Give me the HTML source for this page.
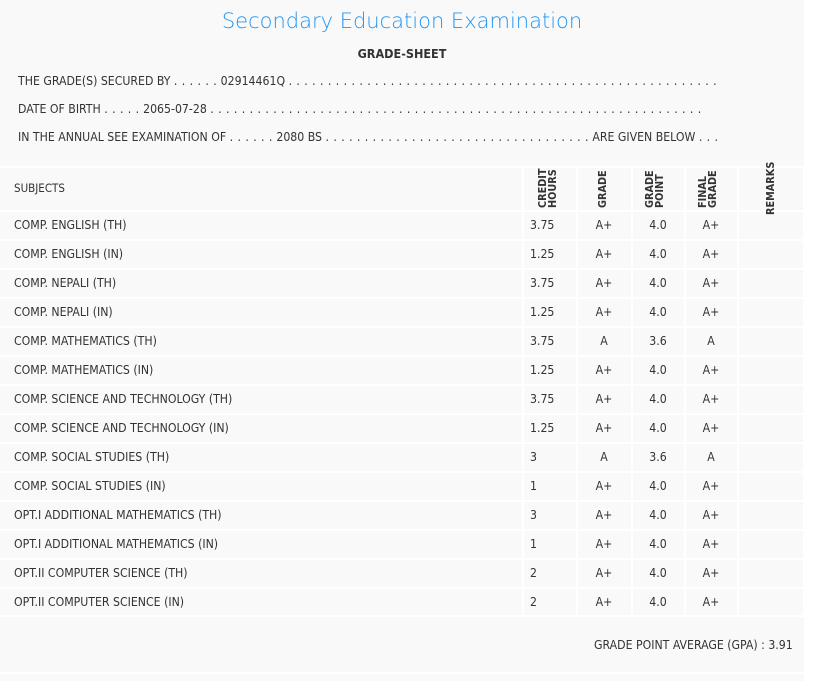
<!DOCTYPE html>
<html><head><style>
body{margin:0;width:832px;height:681px;background:#fff;overflow:hidden;font-family:"DejaVu Sans Condensed","DejaVu Sans",sans-serif;font-stretch:condensed;color:#333;font-size:12.2px}
#pg{position:absolute;left:0;top:0;width:804px;height:681px;background:#f9f9f9}
.a{position:absolute;white-space:nowrap}
.d{letter-spacing:0.45px}
.h{position:absolute;left:0;width:804px;height:2px;background:#fff}
.v{position:absolute;width:2px;background:#fff}
.row{position:absolute;left:0;width:804px;height:29px;line-height:29px}
.row span{position:absolute}
.c{text-align:center;width:54px}
.rot{position:absolute;z-index:5;transform:rotate(-90deg);transform-origin:left top;font-weight:bold;line-height:10px;font-size:10.8px;white-space:nowrap}
</style></head><body><div id="pg">
<div class="a" style="left:0;width:804px;text-align:center;top:9px;font-family:'DejaVu Sans',sans-serif;font-stretch:normal;font-size:21px;color:#2196f3;font-weight:300">Secondary Education Examination</div>
<div class="a" style="left:0;width:804px;text-align:center;top:46px;font-weight:bold;font-size:12.5px">GRADE-SHEET</div>
<div class="a" style="left:18px;top:74px">THE GRADE(S) SECURED BY <span class="d">. . . . . .</span> 02914461Q <span class="d">. . . . . . . . . . . . . . . . . . . . . . . . . . . . . . . . . . . . . . . . . . . . . . . . . . . . . . .</span></div>
<div class="a" style="left:18px;top:102px">DATE OF BIRTH <span class="d">. . . . .</span> 2065-07-28 <span class="d">. . . . . . . . . . . . . . . . . . . . . . . . . . . . . . . . . . . . . . . . . . . . . . . . . . . . . . . . . . . . . . .</span></div>
<div class="a" style="left:18px;top:130px">IN THE ANNUAL SEE EXAMINATION OF <span class="d">. . . . . .</span> 2080 BS <span class="d">. . . . . . . . . . . . . . . . . . . . . . . . . . . . . . . . . .</span> ARE GIVEN BELOW <span class="d">. . .</span></div>
<div class="h" style="top:166px"></div>
<div class="a" style="left:14px;top:181px;font-size:11.5px">SUBJECTS</div>
<div class="rot" style="left:538px;top:208px">CREDIT<br>HOURS</div>
<div class="rot" style="left:598px;top:208px">GRADE</div>
<div class="rot" style="left:645px;top:208px">GRADE<br>POINT</div>
<div class="rot" style="left:698px;top:208px">FINAL<br>GRADE</div>
<div class="rot" style="left:766px;top:215px">REMARKS</div>
<div id="rows"></div>
<div class="a" style="left:594px;top:638px">GRADE POINT AVERAGE (GPA) : 3.91</div>
<div class="h" style="top:672px"></div>
</div>
<script>
var d=[["COMP. ENGLISH (TH)","3.75","A+","4.0","A+"],["COMP. ENGLISH (IN)","1.25","A+","4.0","A+"],["COMP. NEPALI (TH)","3.75","A+","4.0","A+"],["COMP. NEPALI (IN)","1.25","A+","4.0","A+"],["COMP. MATHEMATICS (TH)","3.75","A","3.6","A"],["COMP. MATHEMATICS (IN)","1.25","A+","4.0","A+"],["COMP. SCIENCE AND TECHNOLOGY (TH)","3.75","A+","4.0","A+"],["COMP. SCIENCE AND TECHNOLOGY (IN)","1.25","A+","4.0","A+"],["COMP. SOCIAL STUDIES (TH)","3","A","3.6","A"],["COMP. SOCIAL STUDIES (IN)","1","A+","4.0","A+"],["OPT.I ADDITIONAL MATHEMATICS (TH)","3","A+","4.0","A+"],["OPT.I ADDITIONAL MATHEMATICS (IN)","1","A+","4.0","A+"],["OPT.II COMPUTER SCIENCE (TH)","2","A+","4.0","A+"],["OPT.II COMPUTER SCIENCE (IN)","2","A+","4.0","A+"]];
var h='';
for(var i=0;i<d.length;i++){var y=211+i*29;var r=d[i];
h+='<div class="h" style="top:'+(y-1)+'px"></div><div class="row" style="top:'+y+'px"><span style="left:14px">'+r[0]+'</span><span style="left:530px">'+r[1]+'</span><span class="c" style="left:577px">'+r[2]+'</span><span class="c" style="left:631px">'+r[3]+'</span><span class="c" style="left:684px">'+r[4]+'</span></div>';}
h+='<div class="h" style="top:615px"></div>';
[522,576,631,684,737].forEach(function(x){h+='<div class="v" style="left:'+x+'px;top:167px;height:449px"></div>';});
h+='<div class="v" style="left:803px;top:167px;height:449px"></div>';
document.getElementById('rows').innerHTML=h;
</script>
</body></html>
